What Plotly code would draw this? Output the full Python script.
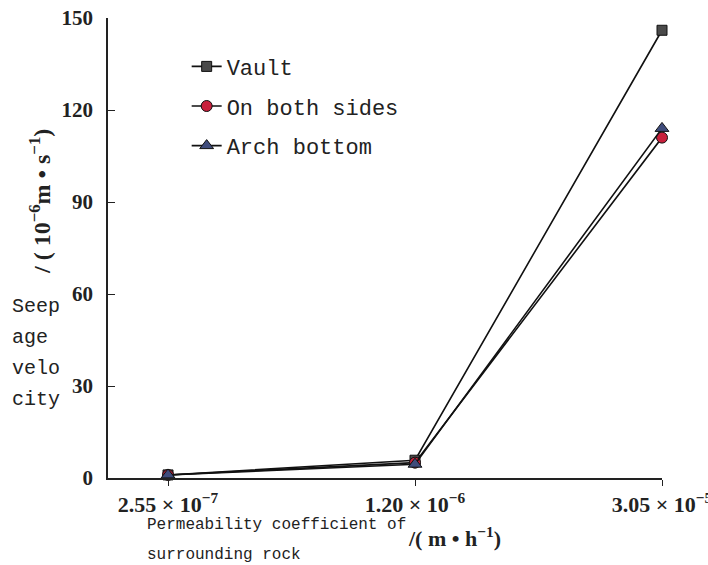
import plotly.graph_objects as go

categories = ["2.55 × 10<sup>−7</sup>", "1.20 × 10<sup>−6</sup>", "3.05 × 10<sup>−5</sup>"]
vault = [1.0, 5.8, 146.0]
both_sides = [1.0, 5.0, 111.0]
arch_bottom = [1.0, 4.5, 114.0]
series_names = ["Vault", "On both sides", "Arch bottom"]

fig = go.Figure()
styles = [
    dict(symbol="square", color="#4a4a4a", size=10),
    dict(symbol="circle", color="#c8203c", size=11),
    dict(symbol="triangle-up", color="#3f4c7c", size=12),
]
for i, (name, vals, st) in enumerate(zip(series_names, [vault, both_sides, arch_bottom], styles)):
    fig.add_trace(go.Scatter(
        x=categories, y=vals, name=name, mode="lines+markers",
        legendgroup=f"g{i}",
        line=dict(color="#111111", width=1.6),
        marker=dict(symbol=st["symbol"], color=st["color"], size=st["size"],
                    line=dict(color="#111111", width=1)),
        cliponaxis=False,
    ))

mono = "Liberation Mono"
serif = "Liberation Serif"

fig.update_layout(
    width=708, height=565,
    margin=dict(l=108, r=46, t=18, b=87),
    paper_bgcolor="white", plot_bgcolor="white",
    showlegend=True,
    legend=dict(x=0.142, y=0.94, xanchor="left", yanchor="top",
                font=dict(family=mono, size=22, color="#222222"),
                bgcolor="rgba(0,0,0,0)", tracegroupgap=8, itemwidth=30),
    xaxis=dict(type="category", range=[-0.243, 2.0], showline=True, linecolor="#222222",
               linewidth=1.5, ticks="outside", ticklen=6, tickcolor="#222222",
               showgrid=False, zeroline=False, automargin=False,
               tickfont=dict(family=serif, size=22, color="#222222", weight="bold")),
    yaxis=dict(range=[0, 150], tickvals=[0, 30, 60, 90, 120, 150], showline=True,
               linecolor="#222222", linewidth=1.5, ticks="inside", ticklen=7,
               tickcolor="#222222", showgrid=False, zeroline=False, automargin=False,
               ticklabelstandoff=9,
               tickfont=dict(family=serif, size=21, color="#222222", weight="bold")),
)

ann = []
for j, word in enumerate(["Seep", "age", "velo", "city"]):
    ann.append(dict(text=word, x=10, y=306 + 31 * j, showarrow=False,
                    xanchor="left", yanchor="middle",
                    font=dict(family=mono, size=20, color="#222222")))
ann.append(dict(text="/ ( 10<sup>−6</sup>m • s<sup>−1</sup>)", x=40, y=202, textangle=-90,
                showarrow=False, xanchor="center", yanchor="middle",
                font=dict(family=serif, size=24, color="#222222", weight="bold")))
ann.append(dict(text="Permeability coefficient of", x=145, y=525, showarrow=False,
                xanchor="left", yanchor="middle",
                font=dict(family=mono, size=16, color="#222222")))
ann.append(dict(text="surrounding rock", x=145, y=555, showarrow=False,
                xanchor="left", yanchor="middle",
                font=dict(family=mono, size=16, color="#222222")))
ann.append(dict(text="/( m • h<sup>−1</sup>)", x=406, y=537, showarrow=False,
                xanchor="left", yanchor="middle",
                font=dict(family=serif, size=22, color="#222222", weight="bold")))

pw, ph = 708 - 108 - 46, 565 - 18 - 87
for a in ann:
    a["x"] = (a["x"] - 108) / pw
    a["y"] = (565 - 87 - a["y"]) / ph
    a["xref"] = "paper"
    a["yref"] = "paper"
fig.update_layout(annotations=ann)

fig.write_html("out.html")
